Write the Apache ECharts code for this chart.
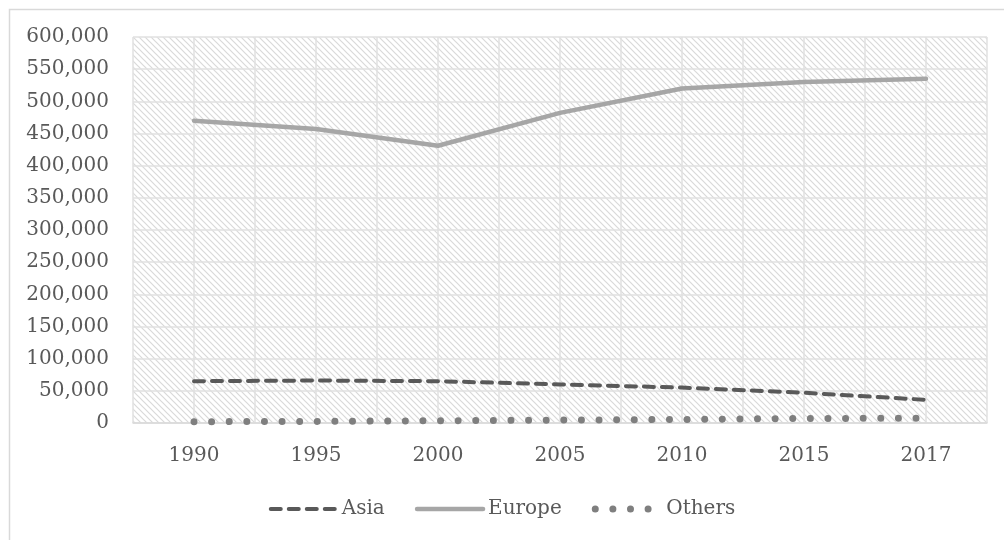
<!DOCTYPE html>
<html>
<head>
<meta charset="utf-8">
<script src="https://cdn.jsdelivr.net/npm/echarts@6/dist/echarts.min.js"></script>
<style>
  html, body { margin: 0; padding: 0; background: #ffffff; }
  #chart { width: 1004px; height: 540px; }
</style>
</head>
<body>
<div id="chart"></div>
<script>
// Years on the category axis
const years = ['1990', '1995', '2000', '2005', '2010', '2015', '2017'];

// Series values
const asia   = [65000, 66000, 65000, 60000, 55000, 47000, 36000];
const europe = [470000, 457000, 431000, 482000, 520000, 530000, 535000];
const others = [2000, 2500, 3500, 4500, 5500, 7000, 7500];

// Value axis ticks
const yMin = 0;
const yMax = 600000;
const yStep = 50000;

const FONT = 'DejaVu Serif';
const TEXT = '#595959';
const GRID = '#e0e0e0';

// Line styles shared by the series and their legend entries
const asiaLine   = { color: '#595959', width: 4, type: [10, 8], cap: 'round' };
const europeLine = { color: '#a6a6a6', width: 4.5, cap: 'round' };
const othersLine = { color: '#7f7f7f', width: 7, type: [0.01, 17.6], cap: 'round' };

// Hatched fill for the plot area: thin downward diagonals
function hatchTile() {
  const size = 6;
  const c = document.createElement('canvas');
  c.width = size; c.height = size;
  const g = c.getContext('2d');
  g.fillStyle = '#ffffff';
  g.fillRect(0, 0, size, size);
  g.strokeStyle = '#d9d9d9';
  g.lineWidth = 1.2;
  g.beginPath();
  g.moveTo(-1, -1); g.lineTo(size + 1, size + 1);
  g.moveTo(-1, size - 1); g.lineTo(1, size + 1);
  g.moveTo(size - 1, -1); g.lineTo(size + 1, 1);
  g.stroke();
  return c;
}

const chart = echarts.init(document.getElementById('chart'), null, { renderer: 'canvas' });

chart.setOption({
  animation: false,
  backgroundColor: '#ffffff',
  graphic: [{
    type: 'rect',
    left: 7, top: 7,
    shape: { width: 1010, height: 545 },
    style: { fill: 'none', stroke: '#d9d9d9', lineWidth: 1.5 },
    silent: true
  }],
  grid: {
    left: 133, right: 17, top: 37, bottom: 117,
    show: true,
    borderWidth: 0,
    backgroundColor: { image: hatchTile(), repeat: 'repeat' }
  },
  legend: {
    bottom: 16,
    left: 'center',
    itemWidth: 66,
    itemHeight: 14,
    itemGap: 30,
    itemStyle: { opacity: 0 },
    textStyle: { fontFamily: FONT, fontSize: 20, color: TEXT },
    data: [
      { name: 'Asia', lineStyle: asiaLine },
      { name: 'Europe', lineStyle: europeLine },
      { name: 'Others', lineStyle: othersLine }
    ]
  },
  xAxis: [{
    type: 'category',
    data: years,
    boundaryGap: true,
    axisLine: { show: true, lineStyle: { color: '#d9d9d9', width: 1.5 } },
    axisTick: { show: false },
    splitLine: { show: false },
    axisLabel: { fontFamily: FONT, fontSize: 20, color: TEXT, margin: 23 }
  }, {
    // half-band guides: vertical gridlines at every category edge and centre
    type: 'value',
    min: 0, max: years.length * 2, interval: 1,
    show: true,
    axisLine: { show: false }, axisTick: { show: false }, axisLabel: { show: false },
    splitLine: { show: true, lineStyle: { color: GRID, width: 1.5 } }
  }],
  yAxis: {
    type: 'value',
    min: yMin, max: yMax, interval: yStep,
    axisLine: { show: false },
    axisTick: { show: false },
    splitLine: { show: true, lineStyle: { color: GRID, width: 1.5 } },
    axisLabel: {
      fontFamily: FONT, fontSize: 20, color: TEXT, margin: 24,
      formatter: v => v.toLocaleString('en-US')
    }
  },
  series: [{
    name: 'Asia',
    type: 'line',
    data: asia,
    symbol: 'none',
    color: asiaLine.color,
    lineStyle: asiaLine,
    z: 3
  }, {
    name: 'Europe',
    type: 'line',
    data: europe,
    symbol: 'none',
    color: europeLine.color,
    lineStyle: europeLine,
    z: 3
  }, {
    name: 'Others',
    type: 'line',
    data: others,
    symbol: 'none',
    color: othersLine.color,
    lineStyle: othersLine,
    z: 3
  }]
});
</script>
</body>
</html>
